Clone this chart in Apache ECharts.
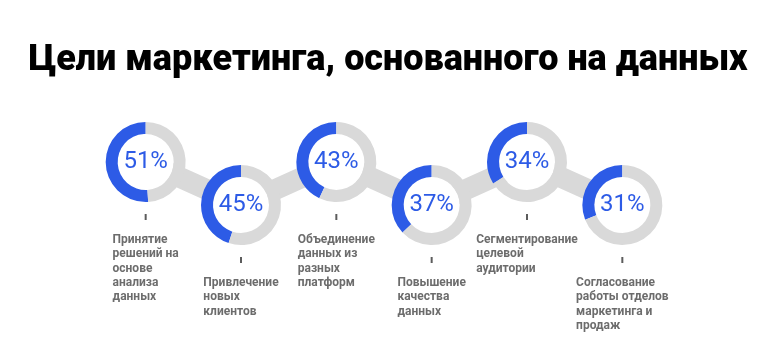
<!DOCTYPE html>
<html><head><meta charset="utf-8">
<script src="https://cdn.jsdelivr.net/npm/echarts@6/dist/echarts.min.js"></script>
<style>html,body{margin:0;padding:0;background:#fff}#c{width:776px;height:359px}</style>
</head><body><div id="c"></div>
<script>
var titleText = 'Цели маркетинга, основанного на данных';
var categories = [
  'Принятие\nрешений на\nоснове\nанализа\nданных',
  'Привлечение\nновых\nклиентов',
  'Объединение\nданных из\nразных\nплатформ',
  'Повышение\nкачества\nданных',
  'Сегментирование\nцелевой\nаудитории',
  'Согласование\nработы отделов\nмаркетинга и\nпродаж'
];
var values = [51, 45, 43, 37, 34, 31];
var levels = [1, 0, 1, 0, 1, 0];

var BLUE = '#2d5be6', GRAY = '#d9d9d9', TEXT = '#474747';
var chart = echarts.init(document.getElementById('c'));

var ctx = document.createElement('canvas').getContext('2d');
ctx.font = 'bold 12px Roboto';
function blockWidth(s){ return Math.max.apply(null, s.split('\n').map(function(l){return ctx.measureText(l).width;})); }

var pts = values.map(function(v,i){ return [i, levels[i]]; });

var baseOption = {
  animation: false,
  title: { text: titleText, left: 'center', top: 38,
    textStyle: { fontFamily: 'Roboto', fontWeight: 900, fontSize: 36, color: '#000' } },
  grid: { left: 98, width: 572, top: 162, bottom: 154 },
  xAxis: { type: 'value', min: -0.5, max: 5.5, show: false },
  yAxis: { type: 'value', min: 0, max: 1, show: false },
  series: [
    { type: 'line', data: pts, symbol: 'none', z: 1, silent: true,
      lineStyle: { color: GRAY, width: 21 } },
    { type: 'scatter', data: pts, symbol: 'rect', symbolSize: [2, 6], symbolOffset: [0, 55],
      itemStyle: { color: '#333' }, z: 5, silent: true },
    { type: 'scatter', symbolSize: 0, z: 5, silent: true,
      data: pts.map(function(p,i){
        return { value: p, label: { offset: [-blockWidth(categories[i]) / 2, 71] } };
      }),
      label: { show: true, position: 'inside', align: 'left', verticalAlign: 'top',
        formatter: function(p){ return categories[p.dataIndex]; },
        fontFamily: 'Roboto', fontWeight: 'bold', fontSize: 12, lineHeight: 14.2, color: TEXT } }
  ]
};
chart.setOption(baseOption);

var pies = [];
pts.forEach(function(p, i){
  var c = chart.convertToPixel({ gridIndex: 0 }, p);
  pies.push({ type: 'pie', center: c, radius: [0, 28], silent: true, z: 2,
    label: { show: false }, labelLine: { show: false },
    data: [{ value: 1, itemStyle: { color: '#fff' } }] });
  pies.push({ type: 'pie', center: c, radius: [28, 40], startAngle: 90, clockwise: false,
    silent: true, z: 3, labelLine: { show: false },
    label: { show: false },
    data: [
      { value: values[i], itemStyle: { color: BLUE },
        label: { show: true, position: 'center', formatter: values[i] + '%',
          fontFamily: 'Roboto', fontSize: 24, color: BLUE } },
      { value: 100 - values[i], itemStyle: { color: GRAY } }
    ] });
});
chart.setOption({ series: baseOption.series.concat(pies) });
</script></body></html>
